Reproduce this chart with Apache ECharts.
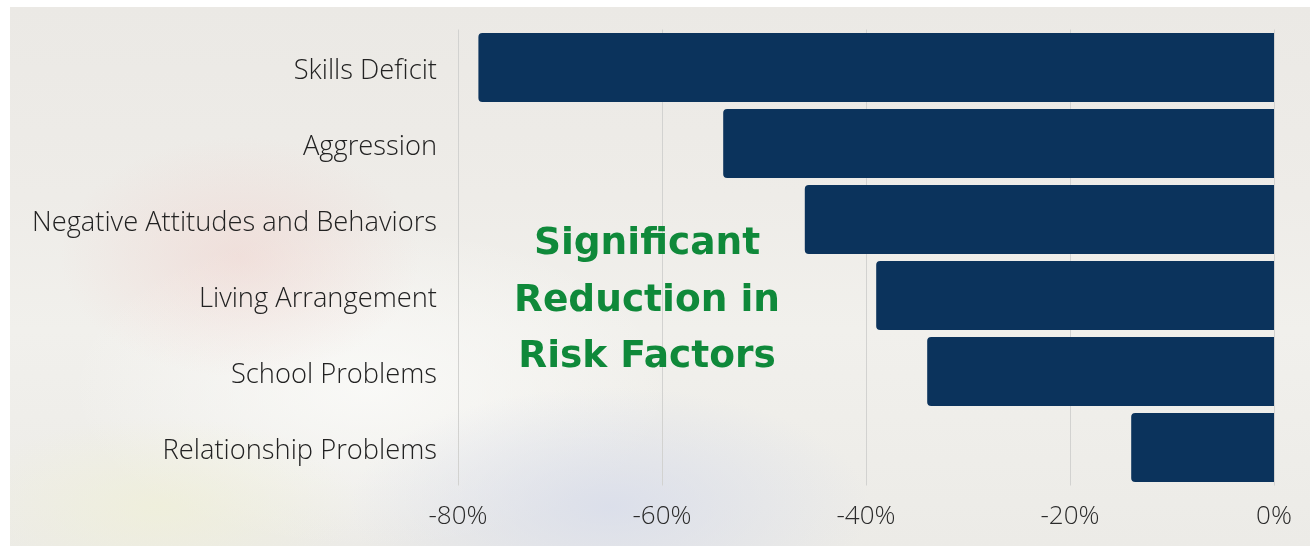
<!DOCTYPE html>
<html>
<head>
<meta charset="utf-8">
<script src="https://cdn.jsdelivr.net/npm/echarts@6/dist/echarts.min.js"></script>
<style>
  html, body { margin: 0; padding: 0; background: #ffffff; }
  #photo {
    position: absolute; left: 10px; top: 7px; width: 1300px; height: 539px;
    background:
      radial-gradient(ellipse 180px 120px at 230px 250px, rgba(240, 205, 200, 0.45), rgba(240, 205, 200, 0) 100%),
      radial-gradient(ellipse 260px 120px at 600px 500px, rgba(215, 220, 235, 0.8), rgba(215, 220, 235, 0) 100%),
      radial-gradient(ellipse 200px 90px at 150px 500px, rgba(240, 240, 215, 0.7), rgba(240, 240, 215, 0) 100%),
      radial-gradient(ellipse 300px 160px at 360px 380px, rgba(250, 250, 248, 0.9), rgba(250, 250, 248, 0) 100%),
      linear-gradient(180deg, #ebe9e5 0%, #eeece8 35%, #f1f0ec 60%, #ecebe7 100%);
  }
  #chart { position: absolute; left: 0; top: 0; width: 1316px; height: 546px; }
</style>
</head>
<body>
<div id="photo"></div>
<div id="chart"></div>
<script>
  const categories = [
    "Skills Deficit",
    "Aggression",
    "Negative Attitudes and Behaviors",
    "Living Arrangement",
    "School Problems",
    "Relationship Problems"
  ];
  const reduction = [-78, -54, -46, -39, -34, -14];
  const tickValues = [-80, -60, -40, -20, 0];

  const chart = echarts.init(document.getElementById("chart"), null, { renderer: "canvas" });

  const options = {
    backgroundColor: "transparent",
    animation: false,
    grid: {
      left: 458,
      right: 42,
      top: 29.5,
      bottom: 60.5
    },
    xAxis: {
      type: "value",
      min: -80,
      max: 0,
      interval: 20,
      axisLine: { show: false },
      axisTick: { show: false },
      splitLine: { show: true, lineStyle: { color: "#d2d2d0", width: 1 } },
      axisLabel: {
        margin: 18,
        color: "#2b2b2b",
        fontFamily: "Open Sans",
        fontWeight: 300,
        fontSize: 26,
        formatter: (v) => (tickValues.includes(v) ? v + "%" : "")
      }
    },
    yAxis: {
      type: "category",
      data: categories,
      inverse: true,
      axisLine: { show: false },
      axisTick: { show: false },
      splitLine: { show: false },
      axisLabel: {
        margin: 21,
        formatter: (v) => "{l|" + v + "}",
        rich: {
          l: {
            color: "#222222",
            fontFamily: "Open Sans",
            fontWeight: 300,
            fontSize: 27.3,
            padding: [8, 0, 0, 0]
          }
        }
      }
    },
    series: [
      {
        type: "bar",
        data: reduction,
        barCategoryGap: "9.5%",
        itemStyle: {
          color: "#0b335c",
          borderRadius: [4, 0, 0, 4]
        }
      }
    ],
    graphic: [
      {
        type: "text",
        x: 647,
        y: 301,
        z: 100,
        style: {
          text: "Significant\nReduction in\nRisk Factors",
          textAlign: "center",
          textVerticalAlign: "middle",
          fill: "#0f893a",
          fontFamily: "DejaVu Sans",
          fontWeight: "bold",
          fontSize: 37.5,
          lineHeight: 56.5
        }
      }
    ]
  };

  chart.setOption(options);
</script>
</body>
</html>
